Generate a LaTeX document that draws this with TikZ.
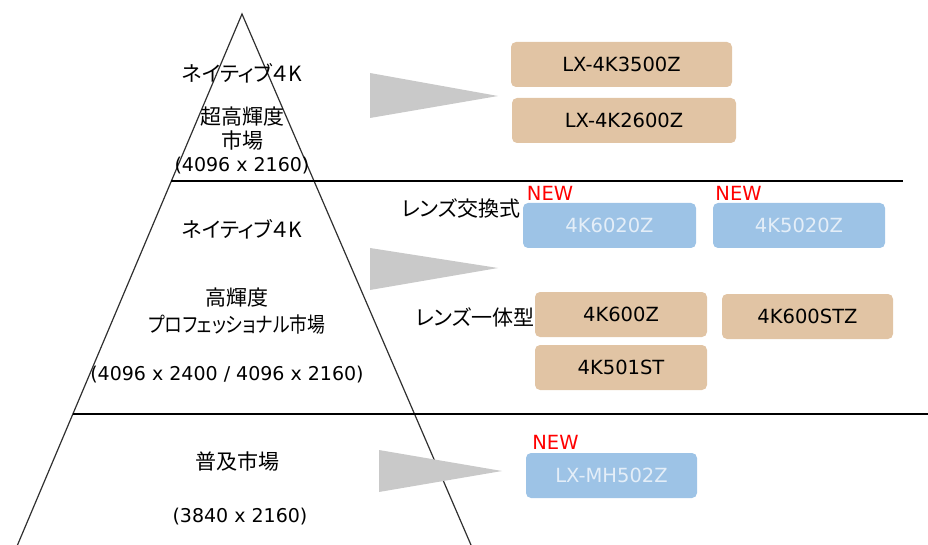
\documentclass[tikz,border=0pt]{standalone}
\usepackage{fontspec}
\setmainfont{DejaVu Sans}
\newfontfamily\jpfont[RawFeature=+palt]{Noto Sans CJK JP}
\definecolor{tanc}{HTML}{E1C4A4}
\definecolor{bluec}{HTML}{9DC3E6}
\definecolor{bluetxt}{HTML}{E4EEF8}
\definecolor{arrowc}{HTML}{C9C9C9}
\definecolor{linec}{HTML}{303030}
\tikzset{
  lbl/.style={inner sep=0pt, font=\fontsize{19}{22}\selectfont},
  jplbl/.style={inner sep=0pt, font=\fontsize{21}{24}\selectfont\jpfont},
  prodbox/.style={rounded corners=5pt, inner sep=0pt, minimum width=#1, minimum height=45pt, font=\fontsize{19.5}{22}\selectfont},
  tanbox/.style={prodbox=#1, fill=tanc, text=black},
  bluebox/.style={prodbox=#1, fill=bluec, text=bluetxt},
  newlbl/.style={inner sep=0pt, text=red, font=\fontsize{19.5}{22}\selectfont},
  ptr/.style={fill=arrowc, draw=none}
}
\begin{document}
\begin{tikzpicture}[x=1pt,y=-1pt]
\useasboundingbox (0,0) rectangle (928,545);
\begin{scope}
\clip (0,0) rectangle (928,545);
% pyramid
\draw[linec, line width=1.2pt] (17.5,545) -- (242,14) -- (471,545);
\draw[black, line width=1.2pt] (171.3,181) -- (903,181);
\draw[black, line width=1.2pt] (72.6,414) -- (928,414);
\end{scope}
% pointers
\fill[ptr] (370,73) -- (498,96) -- (370,118) -- cycle;
\fill[ptr] (370,248) -- (498,268) -- (370,290) -- cycle;
\fill[ptr] (379,450) -- (502,471) -- (379,492) -- cycle;
% top tier texts
\node[jplbl] (t1a) at (242,73) {ネイティブ４K};
\node[jplbl] (t1b) at (242,117) {超高輝度};
\node[jplbl] (t1c) at (242,141) {市場};
\node[lbl] (t1d) at (242,166) {(4096 x 2160)};
% middle tier texts
\node[jplbl] (t2a) at (242,229) {ネイティブ４K};
\node[jplbl] (t2b) at (237,298) {高輝度};
\node[jplbl] (t2c) at (237,325) {\scalebox{0.85}[1]{プロフェッショナル市場}};
\node[lbl] (t2d) at (227,375) {(4096 x 2400 / 4096 x 2160)};
% bottom tier texts
\node[jplbl] (t3a) at (237,462) {普及市場};
\node[lbl] (t3b) at (240,517) {(3840 x 2160)};
% products
\node[tanbox=221pt] (p1) at (621.5,64.5) {LX-4K3500Z};
\node[tanbox=224pt] (p2) at (624,120.5) {LX-4K2600Z};
\node[jplbl] (lens1) at (461,208) {レンズ交換式};
\node[newlbl] (n1) at (550,193) {NEW};
\node[newlbl] (n2) at (738.5,193) {NEW};
\node[bluebox=173pt] (p3) at (609.5,225.5) {4K6020Z};
\node[bluebox=172pt] (p4) at (799,225.5) {4K5020Z};
\node[jplbl] (lens2) at (475,317) {レンズ一体型};
\node[tanbox=172pt] (p5) at (621,314.5) {4K600Z};
\node[tanbox=171pt] (p6) at (807.5,316.5) {4K600STZ};
\node[tanbox=172pt] (p7) at (621,367.5) {4K501ST};
\node[newlbl] (n3) at (555.5,442) {NEW};
\node[bluebox=171pt] (p8) at (611.5,475.5) {LX-MH502Z};
\end{tikzpicture}
\end{document}
